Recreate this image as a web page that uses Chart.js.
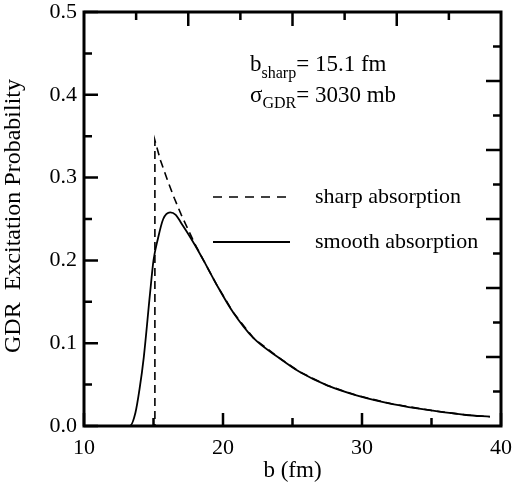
<!DOCTYPE html>
<html>
<head>
<meta charset="utf-8">
<script src="https://cdn.jsdelivr.net/npm/chart.js@4.4.1/dist/chart.umd.min.js"></script>
<style>
  html, body { margin: 0; padding: 0; background: #fff; }
  #wrap { width: 513px; height: 487px; position: relative; }
</style>
</head>
<body>
<div id="wrap"><canvas id="c" width="513" height="487"></canvas></div>
<script>
// ---- data ----
const smoothB = [10, 13.3, 13.7, 14.0, 14.3, 14.75, 15.0, 15.3, 15.7, 16.2, 16.6, 17.0, 17.5, 18.0, 18.6, 19.5, 20.7, 22.2, 24.1, 25.5, 27.5, 29.6, 32.2, 35.1, 37.5, 39.2];
const smoothP = [0, 0, 0.016, 0.045, 0.083, 0.16, 0.20, 0.225, 0.250, 0.258, 0.255, 0.245, 0.232, 0.218, 0.200, 0.172, 0.138, 0.106, 0.0815, 0.0655, 0.049, 0.037, 0.0265, 0.0185, 0.0133, 0.0112];
const sharpB = [10, 15.1, 15.1, 15.5, 16.0, 16.5, 17.0, 17.5, 18.0, 18.6, 19.5, 20.7, 22.2, 24.1, 25.5, 27.5, 29.6, 32.2, 35.1, 37.5, 39.2];
const sharpP = [0, 0, 0.345, 0.321, 0.297, 0.275, 0.255, 0.237, 0.219, 0.200, 0.172, 0.138, 0.106, 0.0815, 0.0655, 0.049, 0.037, 0.0265, 0.0185, 0.0133, 0.0112];
const xTickLabels = ['10', '20', '30', '40'];
const yTickLabels = ['0.0', '0.1', '0.2', '0.3', '0.4', '0.5'];
const seriesNames = ['sharp absorption', 'smooth absorption'];
const xTitle = 'b (fm)';
const yTitle = 'GDR  Excitation Probability';

const FONT = "'Liberation Serif', 'Times New Roman', serif";

const toPts = (xs, ys) => xs.map((x, i) => ({ x: x, y: ys[i] }));

const framePlugin = {
  id: 'frame',
  afterDraw(chart) {
    const ctx = chart.ctx;
    const a = chart.chartArea;
    const xs = chart.scales.x, ys = chart.scales.y;
    ctx.save();
    ctx.strokeStyle = '#000';
    ctx.lineWidth = 3;
    ctx.strokeRect(a.left, a.top, a.right - a.left, a.bottom - a.top);
    ctx.lineWidth = 2.5;
    ctx.beginPath();
    // bottom ticks (inward)
    for (let v = 10; v <= 40; v += 5) {
      const px = xs.getPixelForValue(v);
      const len = (v % 10 === 0) ? 13 : 8;
      ctx.moveTo(px, a.bottom); ctx.lineTo(px, a.bottom - len);
    }
    // left ticks
    for (let k = 0; k <= 10; k++) {
      const py = ys.getPixelForValue(k * 0.05);
      const len = (k % 2 === 0) ? 14 : 8;
      ctx.moveTo(a.left, py); ctx.lineTo(a.left + len, py);
    }
    // top ticks (8 divisions)
    for (let k = 1; k < 8; k++) {
      const px = xs.getPixelForValue(10 + k * 30 / 8);
      const len = (k % 2 === 0) ? 14 : 8;
      ctx.moveTo(px, a.top); ctx.lineTo(px, a.top + len);
    }
    // right ticks (12 divisions)
    for (let k = 1; k < 12; k++) {
      const py = ys.getPixelForValue(k * 0.5 / 12);
      const len = (k % 2 === 0) ? 15 : 8;
      ctx.moveTo(a.right, py); ctx.lineTo(a.right - len, py);
    }
    ctx.stroke();

    // axis titles
    ctx.fillStyle = '#000';
    ctx.font = '23px ' + FONT;
    ctx.textAlign = 'center';
    ctx.textBaseline = 'alphabetic';
    ctx.fillText(xTitle, (a.left + a.right) / 2, 477);
    ctx.save();
    ctx.translate(14, 216);
    ctx.rotate(-Math.PI / 2);
    ctx.font = '24px ' + FONT;
    ctx.textBaseline = 'middle';
    ctx.fillText(yTitle, 0, 0);
    ctx.restore();

    // annotation
    ctx.textAlign = 'left';
    ctx.textBaseline = 'alphabetic';
    let x = 250;
    ctx.font = '23px ' + FONT;
    ctx.fillText('b', x, 71); x += ctx.measureText('b').width;
    ctx.font = '16px ' + FONT;
    ctx.fillText('sharp', x, 78); x += ctx.measureText('sharp').width;
    ctx.font = '23px ' + FONT;
    ctx.fillText('= 15.1 fm', x, 71);
    x = 250;
    ctx.fillText('\u03C3', x, 102); x += ctx.measureText('\u03C3').width;
    ctx.font = '16px ' + FONT;
    ctx.fillText('GDR', x, 108); x += ctx.measureText('GDR').width;
    ctx.font = '23px ' + FONT;
    ctx.fillText('= 3030 mb', x, 102);

    // legend
    ctx.lineWidth = 1.6;
    ctx.beginPath();
    ctx.setLineDash([9, 7]);
    ctx.moveTo(213, 197); ctx.lineTo(292, 197);
    ctx.stroke();
    ctx.setLineDash([]);
    ctx.lineWidth = 1.8;
    ctx.beginPath();
    ctx.moveTo(213, 242); ctx.lineTo(290, 242);
    ctx.stroke();
    ctx.font = '22px ' + FONT;
    ctx.fillText(seriesNames[0], 315, 203);
    ctx.fillText(seriesNames[1], 315, 248);
    ctx.restore();
  }
};

new Chart(document.getElementById('c'), {
  type: 'line',
  data: {
    datasets: [
      {
        label: seriesNames[0],
        data: toPts(sharpB, sharpP),
        borderColor: '#000',
        borderWidth: 1.6,
        borderDash: [8, 5],
        pointRadius: 0,
        tension: 0,
        fill: false
      },
      {
        label: seriesNames[1],
        data: toPts(smoothB, smoothP),
        borderColor: '#000',
        borderWidth: 1.8,
        pointRadius: 0,
        cubicInterpolationMode: 'monotone',
        fill: false
      }
    ]
  },
  options: {
    responsive: false,
    animation: false,
    devicePixelRatio: 1,
    layout: { padding: { top: 12, right: 12, left: 0, bottom: 0 } },
    plugins: { legend: { display: false }, tooltip: { enabled: false } },
    scales: {
      x: {
        type: 'linear',
        min: 10, max: 40,
        afterFit(s) { s.height = 61; s.paddingLeft = 0; s.paddingRight = 0; },
        afterBuildTicks(s) { s.ticks = xTickLabels.map(t => ({ value: Number(t) })); },
        grid: { display: false, drawTicks: false },
        border: { display: false },
        ticks: {
          padding: 9,
          color: '#000',
          font: { family: FONT, size: 22 },
          maxRotation: 0,
          callback: (v) => String(v)
        }
      },
      y: {
        type: 'linear',
        min: 0, max: 0.5,
        afterFit(s) { s.width = 84; s.paddingTop = 0; s.paddingBottom = 0; },
        afterBuildTicks(s) { s.ticks = yTickLabels.map(t => ({ value: Number(t) })); },
        grid: { display: false, drawTicks: false },
        border: { display: false },
        ticks: {
          padding: 7,
          color: '#000',
          font: { family: FONT, size: 22 },
          callback: (v) => Number(v).toFixed(1)
        }
      }
    }
  },
  plugins: [framePlugin]
});
</script>
</body>
</html>
